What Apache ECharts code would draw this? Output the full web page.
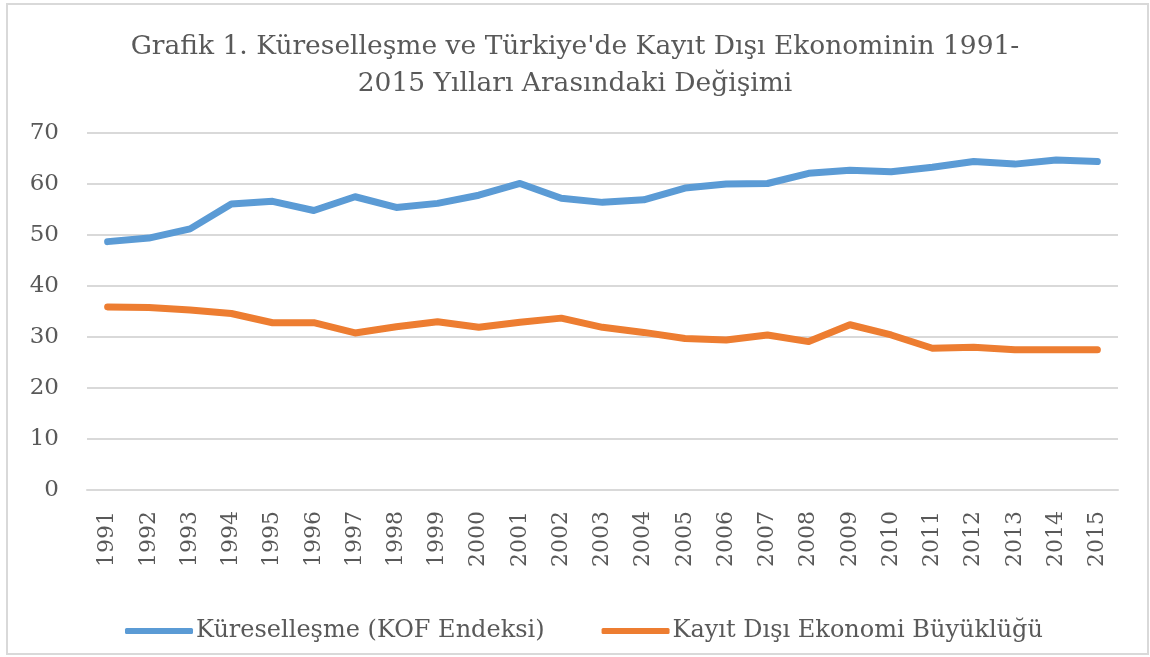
<!DOCTYPE html>
<html>
<head>
    <meta charset="utf-8" />
    <title>Grafik 1</title>
    <script src="https://cdn.jsdelivr.net/npm/echarts@6/dist/echarts.min.js"></script>
    <style type="text/css">
        body { margin: 0; padding: 0; background: #fff; overflow: hidden; }
        #main { width: 1150px; height: 657px; }
    </style>
</head>
<body>
    <div id="main"></div>
    <script type="text/javascript">
        // veriler
        var years = ['1991', '1992', '1993', '1994', '1995', '1996', '1997', '1998', '1999', '2000',
            '2001', '2002', '2003', '2004', '2005', '2006', '2007', '2008', '2009', '2010',
            '2011', '2012', '2013', '2014', '2015'];
        var kofIndex = [48.7, 49.4, 51.2, 56.1, 56.6, 54.8, 57.5, 55.4, 56.2, 57.8,
            60.1, 57.2, 56.4, 56.9, 59.2, 60.0, 60.1, 62.1, 62.7, 62.4,
            63.3, 64.4, 63.9, 64.7, 64.4];
        var informalEconomy = [35.9, 35.8, 35.3, 34.6, 32.8, 32.8, 30.8, 32.0, 33.0, 31.9,
            32.9, 33.7, 31.9, 30.9, 29.7, 29.4, 30.4, 29.1, 32.4, 30.4,
            27.8, 28.0, 27.5, 27.5, 27.5];
        var seriesNames = ['Küreselleşme (KOF Endeksi)', 'Kayıt Dışı Ekonomi Büyüklüğü'];

        var font = 'DejaVu Serif';
        var textColor = '#595959';

        var myChart = echarts.init(document.getElementById('main'));
        var option = {
            backgroundColor: '#fff',
            animation: false,
            title: {
                text: "Grafik 1. Küreselleşme ve Türkiye'de Kayıt Dışı Ekonominin 1991-\n2015 Yılları Arasındaki Değişimi",
                left: 'center',
                top: 24,
                textStyle: {
                    fontFamily: font,
                    fontSize: 26.5,
                    fontWeight: 'normal',
                    color: textColor,
                    lineHeight: 37
                }
            },
            graphic: [{
                type: 'rect',
                shape: { x: 7, y: 4, width: 1141, height: 650 },
                style: { fill: 'none', stroke: '#d9d9d9', lineWidth: 2 },
                silent: true
            }],
            legend: {
                bottom: 9,
                left: 120,
                itemWidth: 68,
                itemHeight: 6,
                itemGap: 57,
                icon: 'roundRect',
                textStyle: { fontFamily: font, fontSize: 24, color: textColor, padding: [0, 0, 0, -2] },
                data: seriesNames
            },
            grid: { left: 87, right: 32, top: 133, bottom: 167 },
            xAxis: {
                type: 'category',
                data: years,
                boundaryGap: true,
                axisLine: { lineStyle: { color: '#d9d9d9', width: 2 } },
                axisTick: { show: false },
                axisLabel: {
                    rotate: 90,
                    margin: 21,
                    fontFamily: font,
                    fontSize: 22,
                    color: textColor
                }
            },
            yAxis: {
                type: 'value',
                min: 0,
                max: 70,
                interval: 10,
                axisLine: { show: false },
                axisTick: { show: false },
                splitLine: { lineStyle: { color: '#d9d9d9', width: 2 } },
                axisLabel: {
                    margin: 28,
                    fontFamily: font,
                    fontSize: 23,
                    color: textColor
                }
            },
            series: [{
                name: seriesNames[0],
                type: 'line',
                data: kofIndex,
                symbol: 'none',
                color: '#5b9bd5',
                lineStyle: { width: 7, cap: 'round', join: 'round' }
            }, {
                name: seriesNames[1],
                type: 'line',
                data: informalEconomy,
                symbol: 'none',
                color: '#ed7d31',
                lineStyle: { width: 7, cap: 'round', join: 'round' }
            }]
        };
        myChart.setOption(option);
    </script>
</body>
</html>
